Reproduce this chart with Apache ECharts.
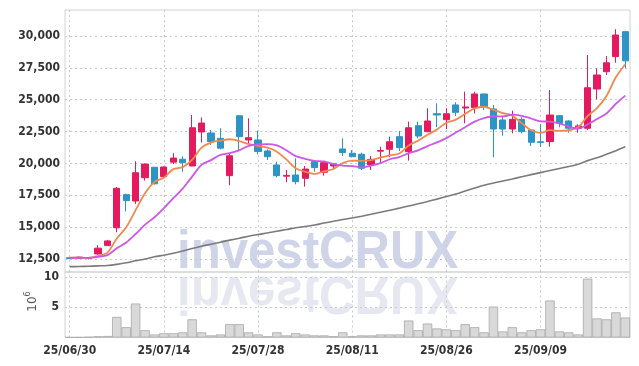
<!DOCTYPE html>
<html><head><meta charset="utf-8">
<script src="https://cdn.jsdelivr.net/npm/echarts@6/dist/echarts.min.js"></script>
<style>html,body{margin:0;padding:0;background:#fff}#c{width:639px;height:366px}</style>
</head><body><div id="c"></div>
<script>
const dates = ['25/06/30','25/07/01','25/07/02','25/07/03','25/07/04','25/07/07','25/07/08','25/07/09','25/07/10','25/07/11',
'25/07/14','25/07/15','25/07/16','25/07/17','25/07/18','25/07/21','25/07/22','25/07/23','25/07/24','25/07/25',
'25/07/28','25/07/29','25/07/30','25/07/31','25/08/01','25/08/04','25/08/05','25/08/06','25/08/07','25/08/08',
'25/08/11','25/08/12','25/08/13','25/08/14','25/08/18','25/08/19','25/08/20','25/08/21','25/08/22','25/08/25',
'25/08/26','25/08/27','25/08/28','25/08/29','25/09/01','25/09/02','25/09/03','25/09/04','25/09/05','25/09/08',
'25/09/09','25/09/10','25/09/11','25/09/12','25/09/15','25/09/16','25/09/17','25/09/18','25/09/19','25/09/22'];
const opens = [12600,12550,12620,12900,13550,14950,17550,17050,18880,19700,
18960,20100,20330,19800,22470,22390,21970,19040,23740,21840,
21840,20980,19880,19000,19090,18830,20140,19310,19800,21130,
20800,20720,19880,20960,21110,22100,20920,22960,22490,23900,
23430,24590,24350,24380,25450,24270,23410,22700,23460,22620,
21700,21710,23750,23330,22760,22760,25840,27200,28380,30340];
const closes = [12530,12650,12550,13350,13920,18050,17080,19270,19950,18400,
19720,20420,20060,22800,23170,21710,21200,20600,22100,22020,
20930,20530,19040,19060,18570,19560,19670,20060,19960,20850,
20530,19620,20320,21020,21700,21240,22800,22150,23330,23800,
23900,24010,24430,25450,24450,22700,22700,23460,22490,21660,
21650,23800,23150,22760,22940,25940,26940,27900,30080,28050];
const lows = [12500,12530,12450,12830,13520,14600,16220,16820,18650,18350,
18930,19950,19350,19780,21640,21450,21100,18290,20980,21580,
20720,20270,18910,18520,18360,18180,19350,19040,19500,20580,
20480,19480,19490,20060,20480,20980,20220,21970,22450,22840,
22700,23720,23150,23930,24190,20480,22180,22360,22360,21370,
21310,21320,22840,22410,22410,22620,25030,26940,27900,27470];
const highs = [12620,12680,12650,13580,14000,18150,17620,20170,20000,19720,
19750,20800,20560,23800,23600,22620,22760,20740,23800,23540,
22570,21110,20140,19480,20400,19800,20170,20190,20000,21970,
21050,20840,20580,21310,22100,22550,23280,23280,24330,24720,
24330,24800,25630,25630,25480,24590,23670,24140,23620,22650,
23100,25760,23800,23380,23070,28510,27470,28430,30530,30390];
const ma5 = [12600,12596,12586,12736,13000,14104,14990,16334,17654,18550,
18884,19552,19710,20280,21234,21632,21788,21896,21756,21526,
21370,21236,20924,20316,19626,19352,19180,19384,19564,20020,
20214,20204,20256,20468,20638,20780,21416,21782,22244,22664,
23196,23438,23894,24318,24448,24208,23946,23752,23160,22602,
22392,22612,22550,22604,22860,23718,24346,25296,26760,27782];
const ma10 = [12593,12598,12593,12668,12800,13345,13793,14460,15195,15775,
16494,17271,18022,18967,19892,20258,20670,20803,21018,21380,
21501,21512,21410,21036,20576,20361,20208,20154,19940,19823,
19783,19692,19820,20016,20329,20497,20810,21019,21356,21651,
21988,22427,22838,23281,23556,23702,23692,23823,23739,23525,
23300,23279,23151,22882,22731,23055,23479,23923,24682,25321];
const maLong = [11900,11910,11930,11960,11990,12080,12200,12360,12500,12680,
12800,12950,13130,13320,13500,13660,13820,13980,14130,14290,
14420,14540,14680,14810,14950,15050,15170,15320,15460,15600,
15720,15860,16010,16170,16330,16490,16660,16830,17010,17200,
17400,17600,17840,18070,18290,18460,18620,18780,18950,19120,
19280,19440,19600,19760,19930,20220,20450,20720,21000,21300];
const volumes = [0.05,0.05,0.1,0.2,0.25,3.4,1.7,5.6,1.2,0.5,
0.7,0.7,0.85,3.0,0.85,0.35,0.5,2.2,2.2,0.85,
0.5,0.2,0.85,0.35,0.7,0.5,0.35,0.35,0.2,0.85,
0.2,0.35,0.35,0.5,0.5,0.5,2.8,1.2,2.3,1.5,
1.35,1.2,2.2,1.7,0.85,5.1,1.0,1.7,0.85,1.2,
1.35,6.1,1.0,0.85,0.5,9.7,3.15,3.0,4.15,3.3];
const priceTicks = [12500,15000,17500,20000,22500,25000,27500,30000];
const volumeTicks = [5,10];
const dateTicks = ['25/06/30','25/07/14','25/07/28','25/08/11','25/08/26','25/09/09'];

const candles = dates.map((d, i) => [opens[i], closes[i], lows[i], highs[i]]);
const FONT = "'DejaVu Sans Condensed','Liberation Sans Narrow',sans-serif";
const gridLine = { color: '#c6c9d6', type: [2, 3], width: 1 };
function vLines() {
  return { silent: true, symbol: 'none', z: 1, animation: false, label: { show: false },
    lineStyle: Object.assign({}, gridLine), emphasis: { disabled: true },
    data: dateTicks.map(d => ({ xAxis: d })) };
}
const labelStyle = { color: '#333', fontFamily: FONT, fontWeight: 'bold', fontSize: 12 };
const WM_FONT = 'bold 54px "Liberation Sans", Arial, sans-serif';

const chart = echarts.init(document.getElementById('c'), null, { renderer: 'canvas' });
chart.setOption({
  animation: false,
  backgroundColor: '#fff',
  grid: [
    { left: 65, right: 9, top: 10, height: 262, show: true, borderColor: '#d2d2d2', borderWidth: 1 },
    { left: 65, right: 9, top: 272, height: 65.5, show: true, borderColor: '#d2d2d2', borderWidth: 1 }
  ],
  xAxis: [
    { type: 'category', data: dates, gridIndex: 0, boundaryGap: true,
      axisLine: { show: false }, axisTick: { show: false }, axisLabel: { show: false }, splitLine: { show: false } },
    { type: 'category', data: dates, gridIndex: 1, boundaryGap: true,
      axisLine: { show: false }, axisTick: { show: false }, splitLine: { show: false },
      axisLabel: Object.assign({ show: true, margin: 7, interval: (i, v) => dateTicks.indexOf(v) >= 0 }, labelStyle) }
  ],
  yAxis: [
    { type: 'value', gridIndex: 0, min: 11480, max: 32040,
      axisLine: { show: false }, axisTick: { show: false, customValues: priceTicks },
      axisLabel: Object.assign({ customValues: priceTicks, margin: 5, verticalAlign: 'middle', padding: [6, 0, 0, 0], formatter: v => v.toLocaleString('en-US') }, labelStyle),
      splitLine: { show: true, lineStyle: gridLine } },
    { type: 'value', gridIndex: 1, min: 0, max: 10.8,
      axisLine: { show: false }, axisTick: { show: false, customValues: volumeTicks },
      axisLabel: Object.assign({ customValues: volumeTicks, margin: 6, verticalAlign: 'middle', padding: [5, 0, 0, 0] }, labelStyle),
      splitLine: { show: true, lineStyle: gridLine } }
  ],
  graphic: [
    { type: 'text', x: 177, y: 253, z: -1, silent: true, scaleX: 0.91,
      style: { text: 'investCRUX', font: WM_FONT, fill: '#cfd4e8', align: 'left', verticalAlign: 'middle' } },
    { type: 'text', x: 177, y: 292, z: -1, silent: true, scaleX: 0.91, scaleY: -1,
      style: { text: 'investCRUX', font: WM_FONT, fill: '#e6e7f0', align: 'left', verticalAlign: 'middle' } },
    { type: 'text', x: 33, y: 304, rotation: Math.PI / 2, silent: true,
      style: { text: '10', font: '12px "DejaVu Sans", sans-serif', fill: '#555', align: 'center', verticalAlign: 'middle' } },
    { type: 'text', x: 28, y: 294, rotation: Math.PI / 2, silent: true,
      style: { text: '6', font: '8px "DejaVu Sans", sans-serif', fill: '#555', align: 'center', verticalAlign: 'middle' } }
  ],
  series: [
    { type: 'candlestick', name: 'price', xAxisIndex: 0, yAxisIndex: 0, data: candles, barWidth: '70%', z: 3,
      itemStyle: { color: '#e31b5e', color0: '#2e93c5', borderColor: '#e31b5e', borderColor0: '#2e93c5', borderWidth: 1 },
      markLine: vLines() },
    { type: 'line', name: 'MA5', xAxisIndex: 0, yAxisIndex: 0, data: ma5, symbol: 'none', smooth: 0.3, z: 4,
      lineStyle: { color: '#ef8a4e', width: 1.8 } },
    { type: 'line', name: 'MA10', xAxisIndex: 0, yAxisIndex: 0, data: ma10, symbol: 'none', smooth: 0.3, z: 4,
      lineStyle: { color: '#cc58e6', width: 1.8 } },
    { type: 'line', name: 'MA', xAxisIndex: 0, yAxisIndex: 0, data: maLong, symbol: 'none', smooth: 0.3, z: 4,
      lineStyle: { color: '#7a7a7a', width: 1.6 } },
    { type: 'bar', name: 'volume', xAxisIndex: 1, yAxisIndex: 1, data: volumes, barWidth: '100%', z: 3,
      itemStyle: { color: '#d9d9d9', borderColor: '#a8a8a8', borderWidth: 0.8 },
      markLine: vLines() }
  ]
});
</script></body></html>
